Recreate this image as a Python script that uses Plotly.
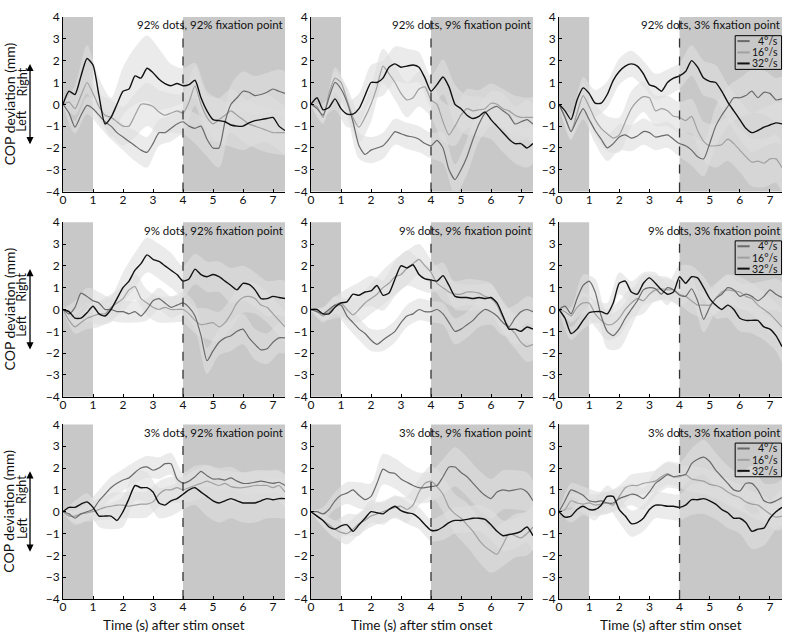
import plotly.graph_objects as go

# ---------------- data ----------------
time_s = [0.0, 0.2, 0.4, 0.6, 0.8, 1.0, 1.2, 1.4, 1.6, 1.8, 2.0, 2.2, 2.4, 2.6, 2.8,
          3.0, 3.2, 3.4, 3.6, 3.8, 4.0, 4.2, 4.4, 4.6, 4.8, 5.0, 5.2, 5.4, 5.6, 5.8,
          6.0, 6.2, 6.4, 6.6, 6.8, 7.0, 7.2, 7.4]
band_idx = [0, 2, 4, 6, 8, 10, 12, 14, 16, 18, 20, 22, 24, 26, 28, 30, 32, 34, 36, 37]

speeds = ["4°/s", "16°/s", "32°/s"]
titles = ["92% dots, 92% fixation point", "92% dots, 9% fixation point", "92% dots, 3% fixation point",
          "9% dots, 92% fixation point", "9% dots, 9% fixation point", "9% dots, 3% fixation point",
          "3% dots, 92% fixation point", "3% dots, 9% fixation point", "3% dots, 3% fixation point"]
x_ticks = [0, 1, 2, 3, 4, 5, 6, 7]
y_ticks = [-4, -3, -2, -1, 0, 1, 2, 3, 4]
stim_on = [0, 1]
post_stim = [4, 7.4]

# panel 1: 92% dots, 92% fixation
p1_4 = [0, -0.4, -1.05, -0.5, -0.05, -0.2, -0.5, -0.8, -1.0, -1.3, -1.5, -1.7, -1.9, -2.1, -2.2, -1.8, -1.3, -1.3, -1.1,
        -0.9, -0.8, -1.0, -1.1, -1.0, -1.6, -2.0, -2.0, -0.8, 0.0, 0.3, 0.6, 0.55, 0.4, 0.45, 0.55, 0.7, 0.6, 0.5]
p1_16 = [0, 0.1, -0.2, 0.4, 1.0, 0.5, -0.1, -0.5, -0.6, -0.8, -1.0, -1.0, -0.5, 0.0, 0.0, -0.1, -0.35, -0.5, -0.4,
         -0.3, -0.4, 0.1, 0.85, 0.0, -0.6, -0.9, -0.7, -0.5, -0.3, -0.5, -0.7, -0.9, -1.0, -1.1, -1.2, -1.3, -1.3, -1.3]
p1_32 = [0, 0.6, 0.45, 1.3, 2.1, 1.8, 0.4, -0.9, -0.6, 0.0, 0.6, 0.7, 1.3, 1.2, 1.65, 1.45, 1.15, 0.95, 0.85,
         0.95, 0.85, 0.9, 1.1, 0.3, -0.3, -0.7, -0.75, -0.8, -0.95, -1.0, -1.0, -0.85, -0.75, -0.7, -0.65, -0.6, -1.0, -1.2]
p1_hw4 = [0.05, 0.3, 0.4, 0.5, 0.6, 0.6, 0.7, 0.7, 0.6, 0.6, 0.6, 0.7, 0.8, 0.9, 0.9, 0.9, 0.9, 0.9, 1.0, 1.0]
p1_hw16 = [0.05, 0.3, 0.5, 0.6, 0.8, 0.9, 1.0, 1.0, 1.0, 0.9, 0.9, 0.9, 1.0, 1.0, 1.0, 1.0, 1.0, 1.0, 1.0, 1.0]
p1_hw32 = [0.05, 0.4, 0.6, 0.8, 0.9, 1.1, 1.3, 1.5, 1.4, 1.0, 0.8, 0.8, 0.9, 1.0, 1.0, 1.1, 1.1, 1.1, 1.1, 1.1]

# panel 2: 92% dots, 9% fixation
p2_4 = [0, -0.2, -0.5, 0.3, 1.0, 0.7, 0.1, -0.8, -1.9, -2.3, -2.1, -2.0, -1.9, -1.6, -1.25, -1.35, -1.45, -1.5, -1.6,
        -1.8, -1.9, -1.65, -2.0, -3.0, -3.45, -3.0, -2.4, -1.6, -0.9, -0.4, -0.2, -0.1, -0.3, -0.5, -0.9, -0.8, -0.7, -0.9]
p2_16 = [0, -0.1, -0.6, 0.5, 1.2, 1.0, 0.2, -0.6, -1.05, -0.6, 0.0, 0.8, 1.75, 1.4, 1.0, 0.5, 0.2, 0.3, 0.7,
         0.8, 0.2, 0.0, -0.8, -1.4, -1.0, -0.5, -0.2, -0.3, -0.25, -0.2, 0.05, 0.0, -0.2, -0.3, -0.5, -0.6, -0.6, -0.6]
p2_32 = [0, 0.3, -0.25, -0.15, 0.25, -0.2, -0.45, -0.45, -0.2, 0.4, 1.0, 1.0, 1.2, 1.7, 1.85, 1.7, 1.75, 1.8, 1.7,
         1.2, 0.6, 0.9, 1.25, 0.8, 0.0, -0.2, -0.5, -0.65, -0.55, -0.35, -0.7, -1.0, -1.3, -1.6, -1.8, -1.8, -2.0, -1.8]
p2_hw4 = [0.05, 0.3, 0.5, 0.6, 0.6, 0.6, 0.6, 0.6, 0.6, 0.6, 0.6, 0.7, 0.7, 0.8, 0.8, 0.8, 0.8, 0.8, 0.9, 0.9]
p2_hw16 = [0.05, 0.3, 0.5, 0.6, 0.7, 0.8, 0.8, 0.8, 0.8, 0.8, 0.8, 0.9, 0.9, 0.9, 0.9, 0.9, 0.9, 0.9, 0.9, 0.9]
p2_hw32 = [0.05, 0.3, 0.5, 0.6, 0.7, 0.8, 0.8, 0.8, 0.8, 0.7, 0.7, 0.8, 0.9, 0.9, 0.9, 0.9, 0.9, 0.9, 0.9, 0.9]

# panel 3: 92% dots, 3% fixation
p3_4 = [0, -0.6, -1.25, -0.7, -0.2, -0.7, -1.2, -1.6, -2.0, -1.8, -1.5, -1.4, -1.55, -1.45, -1.25, -1.3, -1.5, -1.45, -1.4,
        -1.6, -1.8, -1.9, -2.1, -2.4, -2.5, -1.8, -1.0, -0.5, -0.1, 0.3, 0.3, 0.4, 0.6, 0.3, 0.55, 0.5, 0.2, 0.25]
p3_16 = [0, -0.6, -1.25, -0.4, 0.4, -0.1, -0.7, -1.1, -1.35, -1.55, -1.4, -0.8, -0.2, 0.15, 0.35, 0.3, -0.3, -0.2, -0.3,
         -0.55, -0.6, -0.75, -0.55, -1.2, -1.7, -1.9, -1.9, -1.85, -1.6, -1.8, -2.1, -2.4, -2.65, -2.6, -2.7, -2.5, -2.5, -2.9]
p3_32 = [0, -0.3, -0.7, 0.2, 0.75, 0.5, 0.05, 0.05, 0.45, 1.1, 1.5, 1.75, 1.85, 1.75, 1.4, 0.9, 0.8, 0.6, 1.0,
         1.2, 1.3, 1.5, 2.0, 1.7, 1.2, 1.05, 1.0, 0.6, 0.1, -0.3, -0.7, -1.1, -1.3, -1.2, -1.05, -0.95, -0.85, -0.9]
p3_hw4 = [0.05, 0.3, 0.5, 0.6, 0.6, 0.6, 0.6, 0.6, 0.6, 0.6, 0.6, 0.7, 0.8, 0.9, 0.9, 0.9, 1.0, 1.0, 1.0, 1.0]
p3_hw16 = [0.05, 0.4, 0.6, 0.7, 0.8, 0.8, 0.8, 0.7, 0.7, 0.7, 0.7, 0.8, 0.9, 1.0, 1.0, 1.0, 1.1, 1.1, 1.1, 1.1]
p3_hw32 = [0.05, 0.3, 0.5, 0.6, 0.6, 0.6, 0.6, 0.6, 0.6, 0.6, 0.6, 0.7, 0.8, 0.8, 0.8, 0.9, 0.9, 0.9, 0.9, 0.9]

# panel 4: 9% dots, 92% fixation
p4_4 = [0, -0.2, 0.1, 0.75, 0.6, 0.4, 0.3, 0.0, 0.0, -0.1, -0.1, -0.2, -0.1, -0.3, 0.0, 0.4, 0.5, 0.3, 0.1,
        0.2, 0.3, 0.1, -0.3, -1.2, -2.35, -1.9, -1.5, -1.3, -1.2, -1.0, -0.9, -1.3, -1.6, -1.85, -1.8, -1.5, -1.3, -1.3]
p4_16 = [0, -0.5, -0.8, -0.6, -0.4, -0.3, -0.2, -0.2, 0.1, 0.3, 0.5, 0.9, 1.05, 0.5, 0.3, 0.1, 0.0, 0.1, 0.0,
         0.0, 0.0, -0.2, -0.5, -0.7, -0.65, -0.6, -0.8, -0.6, -0.2, 0.3, 0.55, 0.6, 0.5, 0.2, 0.1, -0.2, -0.5, -0.8]
p4_32 = [0, -0.1, -0.4, -0.4, -0.15, 0.15, -0.2, -0.3, 0.0, 0.5, 1.0, 1.3, 1.8, 2.1, 2.5, 2.3, 2.2, 2.0, 1.8,
         1.6, 1.3, 1.4, 1.85, 1.6, 1.5, 1.6, 1.5, 1.3, 1.1, 0.9, 1.2, 1.15, 0.9, 0.5, 0.5, 0.6, 0.55, 0.5]
p4_hw4 = [0.05, 0.3, 0.4, 0.5, 0.5, 0.5, 0.5, 0.5, 0.5, 0.5, 0.5, 0.6, 0.6, 0.6, 0.7, 0.7, 0.7, 0.7, 0.7, 0.7]
p4_hw16 = [0.05, 0.3, 0.5, 0.6, 0.6, 0.6, 0.6, 0.6, 0.6, 0.6, 0.6, 0.6, 0.7, 0.7, 0.7, 0.7, 0.7, 0.7, 0.7, 0.7]
p4_hw32 = [0.05, 0.3, 0.4, 0.5, 0.6, 0.7, 0.8, 0.8, 0.8, 0.8, 0.7, 0.7, 0.7, 0.7, 0.8, 0.8, 0.8, 0.8, 0.8, 0.8]

# panel 5: 9% dots, 9% fixation
p5_4 = [0, -0.1, -0.2, 0.0, 0.2, 0.2, -0.3, -0.6, -0.9, -1.1, -1.4, -1.6, -1.4, -1.2, -1.0, -0.6, -0.3, -0.2, 0.0,
        -0.1, -0.1, 0.0, -0.2, -0.6, -1.0, -0.9, -0.7, -0.5, -0.2, 0.0, -0.1, -0.3, -0.6, -0.8, -0.4, -0.1, 0.0, -0.1]
p5_16 = [0, -0.1, -0.3, -0.1, 0.2, 0.3, 0.0, -0.25, 0.0, 0.3, 0.5, 0.7, 1.0, 1.2, 1.5, 1.6, 1.9, 2.1, 2.3,
         2.0, 1.7, 1.2, 1.0, 0.8, 0.7, 0.7, 0.8, 0.8, 0.75, 0.6, 0.5, 0.2, -0.4, -0.8, -1.1, -1.5, -1.7, -1.6]
p5_32 = [0, 0.0, -0.2, -0.2, 0.1, 0.3, 0.35, 0.7, 0.65, 0.8, 0.85, 1.1, 0.65, 0.75, 1.4, 2.0, 1.9, 2.05, 1.6,
         1.4, 1.35, 1.3, 1.55, 1.1, 0.6, 0.55, 0.55, 0.5, 0.55, 0.5, 0.55, 0.3, -0.3, -0.9, -0.9, -1.0, -0.8, -0.9]
p5_hw4 = [0.05, 0.3, 0.4, 0.5, 0.5, 0.5, 0.5, 0.5, 0.5, 0.5, 0.5, 0.5, 0.6, 0.6, 0.6, 0.6, 0.6, 0.6, 0.6, 0.6]
p5_hw16 = [0.05, 0.3, 0.4, 0.5, 0.6, 0.7, 0.8, 0.8, 0.8, 0.7, 0.6, 0.6, 0.6, 0.6, 0.6, 0.7, 0.7, 0.7, 0.7, 0.7]
p5_hw32 = [0.05, 0.3, 0.5, 0.6, 0.6, 0.7, 0.7, 0.8, 0.8, 0.7, 0.6, 0.6, 0.6, 0.6, 0.6, 0.6, 0.7, 0.7, 0.7, 0.7]

# panel 6: 9% dots, 3% fixation
p6_4 = [0, 0.15, -0.2, 0.5, 1.1, 1.3, 0.8, -0.3, -1.0, -1.2, -0.9, -0.4, 0.0, 0.4, 0.9, 1.0, 0.95, 0.7, 1.0,
        0.9, 0.65, 0.6, 0.95, 0.4, -0.45, 0.1, 0.5, 0.7, 1.0, 0.9, 0.6, 0.7, 0.6, 0.4, 0.6, 0.9, 0.7, 0.55]
p6_16 = [0, -0.1, -0.3, 0.1, 0.3, 0.3, -0.2, -0.5, -0.7, -0.65, -0.4, 0.0, 0.3, 0.5, 0.4, 0.7, 0.9, 0.95, 0.9,
         0.9, 0.7, 0.6, 0.4, 0.2, 0.2, 0.2, 0.5, 0.8, 0.9, 0.85, 0.8, 0.6, 0.5, 0.2, 0.0, -0.2, -0.5, -0.8]
p6_32 = [0, -0.4, -1.1, -0.9, -0.5, -0.15, -0.1, -0.1, -0.2, 0.3, 1.2, 1.3, 0.8, 0.7, 1.2, 1.45, 1.2, 0.9, 0.7,
         0.8, 1.5, 1.2, 1.5, 1.45, 1.0, 0.5, 0.2, 0.0, 0.2, 0.0, -0.4, -0.5, -0.5, -0.5, -0.8, -0.9, -1.2, -1.7]
p6_hw4 = [0.05, 0.3, 0.5, 0.6, 0.8, 0.9, 0.8, 0.7, 0.6, 0.5, 0.5, 0.5, 0.6, 0.6, 0.6, 0.6, 0.6, 0.7, 0.7, 0.7]
p6_hw16 = [0.05, 0.3, 0.5, 0.6, 0.7, 0.8, 0.7, 0.6, 0.5, 0.5, 0.5, 0.6, 0.6, 0.7, 0.7, 0.7, 0.7, 0.8, 0.8, 0.8]
p6_hw32 = [0.05, 0.3, 0.4, 0.5, 0.5, 0.5, 0.5, 0.5, 0.5, 0.5, 0.5, 0.5, 0.5, 0.6, 0.6, 0.6, 0.6, 0.6, 0.7, 0.7]

# panel 7: 3% dots, 92% fixation
p7_4 = [0, -0.1, -0.3, -0.1, 0.0, 0.1, 0.5, 0.8, 1.1, 1.3, 1.45, 1.55, 1.8, 2.0, 2.05, 1.9, 2.0, 2.2, 2.2,
        1.5, 1.3, 1.4, 1.6, 1.85, 1.65, 1.5, 1.5, 1.45, 1.55, 1.4, 1.3, 1.3, 1.35, 1.4, 1.35, 1.3, 1.35, 1.2]
p7_16 = [0, -0.2, -0.2, -0.1, -0.05, 0.0, 0.1, 0.2, 0.25, 0.3, 0.3, 0.25, 0.3, 0.35, 0.35, 0.45, 0.8, 1.0, 1.0,
         1.1, 1.0, 1.1, 1.2, 1.3, 1.4, 1.3, 1.2, 1.3, 1.15, 1.1, 1.1, 1.15, 1.2, 1.2, 1.2, 1.1, 1.2, 0.9]
p7_32 = [0, 0.2, 0.2, 0.35, 0.45, 0.2, -0.2, -0.2, -0.2, -0.4, 0.0, 0.6, 1.2, 1.1, 1.1, 0.9, 0.4, 0.3, 0.5,
         0.6, 0.8, 1.0, 1.1, 0.9, 0.7, 0.5, 0.4, 0.5, 0.6, 0.5, 0.4, 0.4, 0.4, 0.5, 0.6, 0.55, 0.6, 0.6]
p7_hw4 = [0.05, 0.3, 0.4, 0.5, 0.5, 0.5, 0.5, 0.5, 0.5, 0.5, 0.5, 0.5, 0.5, 0.5, 0.5, 0.5, 0.5, 0.5, 0.5, 0.5]
p7_hw16 = [0.05, 0.3, 0.4, 0.5, 0.6, 0.6, 0.6, 0.6, 0.6, 0.6, 0.6, 0.7, 0.7, 0.7, 0.7, 0.7, 0.7, 0.7, 0.7, 0.7]
p7_hw32 = [0.05, 0.3, 0.4, 0.5, 0.6, 0.7, 0.7, 0.7, 0.7, 0.7, 0.7, 0.8, 0.9, 0.9, 0.9, 0.9, 0.9, 0.9, 0.9, 0.9]

# panel 8: 3% dots, 9% fixation
p8_4 = [0, 0.0, -0.1, 0.1, 0.5, 0.75, 0.85, 1.0, 0.75, 0.55, 0.7, 1.3, 1.95, 1.8, 1.75, 1.5, 1.35, 1.2, 1.1,
        1.1, 1.15, 1.2, 1.6, 2.05, 2.05, 1.8, 1.6, 1.3, 1.0, 0.75, 0.6, 0.9, 1.0, 0.95, 1.0, 1.05, 0.9, 0.5]
p8_16 = [0, -0.2, -0.4, -0.6, -0.8, -0.95, -1.0, -0.8, -0.55, -0.4, -0.2, -0.1, 0.0, 0.1, 0.2, 0.25, 0.1, 0.3, 0.9,
         1.3, 1.4, 1.15, 0.8, 0.2, -0.1, -0.3, -0.6, -0.9, -1.3, -1.6, -1.8, -1.95, -1.5, -1.0, -1.1, -1.2, -1.0, -0.7]
p8_32 = [0, -0.2, -0.4, -0.7, -0.8, -0.65, -0.6, -0.9, -0.6, -0.3, 0.0, -0.05, -0.1, 0.1, 0.25, 0.05, -0.05, -0.1, -0.3,
         -0.6, -0.85, -0.85, -0.7, -0.5, -0.4, -0.4, -0.35, -0.3, -0.3, -0.35, -0.6, -0.9, -1.1, -1.05, -1.0, -0.9, -0.7, -1.1]
p8_hw4 = [0.05, 0.3, 0.4, 0.5, 0.6, 0.6, 0.7, 0.7, 0.7, 0.7, 0.7, 0.8, 0.9, 0.9, 0.9, 0.9, 0.9, 0.9, 0.9, 0.9]
p8_hw16 = [0.05, 0.3, 0.4, 0.5, 0.5, 0.5, 0.5, 0.5, 0.6, 0.6, 0.7, 0.8, 0.9, 1.0, 1.0, 1.0, 1.0, 1.0, 1.0, 1.0]
p8_hw32 = [0.05, 0.3, 0.4, 0.5, 0.5, 0.5, 0.5, 0.5, 0.5, 0.5, 0.5, 0.6, 0.6, 0.6, 0.6, 0.7, 0.7, 0.7, 0.7, 0.7]

# panel 9: 3% dots, 3% fixation
p9_4 = [0, 0.5, 1.0, 0.9, 0.75, 0.5, 0.45, 0.5, 0.4, 0.4, 0.6, 0.7, 0.8, 0.75, 0.6, 0.9, 1.3, 1.5, 1.7,
        1.6, 1.65, 1.7, 2.2, 2.4, 2.5, 2.3, 1.9, 1.6, 1.3, 1.0, 0.95, 1.3, 1.3, 1.0, 0.5, 0.4, 0.5, 0.65]
p9_16 = [0, 0.1, 0.5, 0.4, 0.35, 0.4, 0.3, 0.35, 0.4, 0.3, 0.7, 1.1, 1.2, 1.2, 1.3, 1.35, 1.4, 1.6, 1.75,
         1.6, 1.6, 1.7, 1.5, 1.45, 1.4, 1.25, 1.2, 1.1, 0.9, 0.75, 0.65, 0.45, 0.35, 0.3, 0.1, -0.1, -0.25, -0.2]
p9_32 = [0, -0.25, -0.2, 0.1, 0.25, 0.1, 0.1, 0.3, 0.7, 0.7, 0.1, -0.2, -0.55, -0.5, -0.3, 0.1, 0.3, 0.3, 0.25,
         0.25, 0.2, 0.3, 0.55, 0.55, 0.6, 0.5, 0.35, 0.1, -0.05, -0.3, -0.3, -0.5, -0.9, -0.8, -0.75, -0.3, 0.0, 0.2]
p9_hw4 = [0.05, 0.3, 0.4, 0.5, 0.5, 0.5, 0.5, 0.5, 0.6, 0.6, 0.6, 0.7, 0.8, 0.8, 0.8, 0.8, 0.8, 0.8, 0.8, 0.8]
p9_hw16 = [0.05, 0.3, 0.4, 0.5, 0.5, 0.5, 0.5, 0.5, 0.5, 0.5, 0.5, 0.6, 0.6, 0.6, 0.6, 0.6, 0.6, 0.6, 0.6, 0.6]
p9_hw32 = [0.05, 0.3, 0.4, 0.5, 0.5, 0.6, 0.6, 0.6, 0.6, 0.6, 0.6, 0.7, 0.7, 0.7, 0.7, 0.7, 0.8, 0.8, 0.8, 0.8]

means = [(p1_4, p1_16, p1_32), (p2_4, p2_16, p2_32), (p3_4, p3_16, p3_32),
         (p4_4, p4_16, p4_32), (p5_4, p5_16, p5_32), (p6_4, p6_16, p6_32),
         (p7_4, p7_16, p7_32), (p8_4, p8_16, p8_32), (p9_4, p9_16, p9_32)]
halfwidths = [(p1_hw4, p1_hw16, p1_hw32), (p2_hw4, p2_hw16, p2_hw32), (p3_hw4, p3_hw16, p3_hw32),
              (p4_hw4, p4_hw16, p4_hw32), (p5_hw4, p5_hw16, p5_hw32), (p6_hw4, p6_hw16, p6_hw32),
              (p7_hw4, p7_hw16, p7_hw32), (p8_hw4, p8_hw16, p8_hw32), (p9_hw4, p9_hw16, p9_hw32)]

# ---------------- styling ----------------
FONT = "Lato, 'Open Sans', sans-serif"
line_colors = ["#6a6a6a", "#a0a0a0", "#111111"]
line_widths = [1.2, 1.2, 1.4]
band_color = "rgba(222,222,222,0.62)"
shade_color = "#c8c8c8"

W, H = 798, 639
col_px = [(63, 285), (311, 533), (559, 782)]
row_px = [(9, 186), (217, 394), (422, 599)]
ml = col_px[0][0]
mr = W - col_px[2][1]
mt = row_px[0][0]
mb = H - row_px[2][1]
pw = W - ml - mr
ph = H - mt - mb


def px_x(x):
    return (x - ml) / pw


def px_y(y):
    return 1 - (y - mt) / ph


def xdom(c):
    a, b = col_px[c]
    return [px_x(a), px_x(b)]


def ydom(r):
    a, b = row_px[r]
    return [px_y(b), px_y(a)]


fig = go.Figure()
shapes = []
annotations = []
layout_axes = {}

for k in range(9):
    r, c = divmod(k, 3)
    sfx = "" if k == 0 else str(k + 1)
    xa, ya = "x" + sfx, "y" + sfx
    bx = [time_s[i] for i in band_idx]
    # confidence bands
    for vals, hw in zip(means[k], halfwidths[k]):
        hi = [vals[i] + h for i, h in zip(band_idx, hw)]
        lo = [vals[i] - h for i, h in zip(band_idx, hw)]
        fig.add_trace(go.Scatter(x=bx + bx[::-1], y=hi + lo[::-1], fill="toself",
                                 fillcolor=band_color, line=dict(width=0, shape="spline", smoothing=0.8),
                                 mode="lines", hoverinfo="skip", showlegend=False, xaxis=xa, yaxis=ya))
    # mean lines (16 first, then 4, black on top)
    for j in [1, 0, 2]:
        fig.add_trace(go.Scatter(x=time_s, y=means[k][j], mode="lines", name=speeds[j],
                                 line=dict(color=line_colors[j], width=line_widths[j],
                                           shape="spline", smoothing=0.6),
                                 showlegend=False, xaxis=xa, yaxis=ya))

    axis_common = dict(ticks="inside", ticklen=3, tickcolor="#000", showline=True,
                       linecolor="#000", linewidth=1, showgrid=False, zeroline=False,
                       tickfont=dict(size=12, color="#111", family=FONT))
    layout_axes["xaxis" + sfx] = dict(domain=xdom(c), anchor=ya, range=[0, 7.4], tickvals=x_ticks,
                                      ticklabelstandoff=-3, **axis_common)
    layout_axes["yaxis" + sfx] = dict(domain=ydom(r), anchor=xa, range=[-4, 4], tickvals=y_ticks,
                                      **axis_common)
    # shaded periods
    for x0, x1 in (stim_on, post_stim):
        shapes.append(dict(type="rect", xref=xa, yref=ya + " domain", x0=x0, x1=x1, y0=0, y1=1,
                           fillcolor=shade_color, line=dict(width=0), layer="below"))
    shapes.append(dict(type="line", xref=xa, yref=ya + " domain", x0=post_stim[0], x1=post_stim[0],
                       y0=0, y1=1, line=dict(color="#333", width=1.3, dash="dash"), layer="above"))
    # panel title
    annotations.append(dict(text=titles[k], xref=xa + " domain", yref=ya + " domain", x=1.0, y=0.955,
                            xanchor="right", yanchor="middle", showarrow=False,
                            font=dict(size=11.5, color="#111", family=FONT)))
    # legend box for right column
    if c == 2:
        shapes.append(dict(type="rect", xref=xa + " domain", yref=ya + " domain", x0=0.79, x1=0.998,
                           y0=0.70, y1=0.893, line=dict(color="#000", width=1), fillcolor="rgba(0,0,0,0)",
                           layer="above"))
        ys = [0.862, 0.797, 0.734]
        for j in range(3):
            shapes.append(dict(type="line", xref=xa + " domain", yref=ya + " domain", x0=0.80, x1=0.855,
                               y0=ys[j], y1=ys[j], line=dict(color=line_colors[j], width=2),
                               layer="above"))
            annotations.append(dict(text=speeds[j], xref=xa + " domain", yref=ya + " domain", x=0.99,
                                    y=ys[j], xanchor="right", yanchor="middle", showarrow=False,
                                    font=dict(size=10.5, color="#111", family=FONT)))
    # y-axis labels for left column
    if c == 0:
        d = ydom(r)
        annotations.append(dict(text="COP deviation (mm)", xref="paper", yref="paper",
                                x=px_x(9), y=(d[0] + d[1]) / 2, textangle=-90,
                                xanchor="center", yanchor="middle", showarrow=False,
                                font=dict(size=14, color="#111", family=FONT)))
        annotations.append(dict(text="Right", xref="paper", yref=ya, x=px_x(22), y=1.0,
                                textangle=-90, xanchor="center", yanchor="middle", showarrow=False,
                                font=dict(size=12.5, color="#111", family=FONT)))
        annotations.append(dict(text="Left", xref="paper", yref=ya, x=px_x(22), y=-0.75,
                                textangle=-90, xanchor="center", yanchor="middle", showarrow=False,
                                font=dict(size=12.5, color="#111", family=FONT)))
        annotations.append(dict(text="", xref="paper", yref=ya, x=px_x(30), y=1.85,
                                axref="pixel", ayref=ya, ax=0, ay=-1.9, showarrow=True,
                                arrowhead=2, arrowside="end+start", arrowsize=1.1, arrowwidth=1.3,
                                arrowcolor="#000"))
    # x-axis labels for bottom row
    if r == 2:
        d = xdom(c)
        annotations.append(dict(text="Time (s) after stim onset", xref="paper", yref="paper",
                                x=(d[0] + d[1]) / 2, y=px_y(625), xanchor="center",
                                yanchor="middle", showarrow=False,
                                font=dict(size=13.5, color="#111", family=FONT)))

fig.update_layout(width=W, height=H, margin=dict(l=ml, r=mr, t=mt, b=mb),
                  paper_bgcolor="white", plot_bgcolor="white", showlegend=False,
                  shapes=shapes, annotations=annotations, font=dict(family=FONT), **layout_axes)

# remove the default page margin so the figure sits at the window's top-left corner
fig.write_html("out.html", config={"displayModeBar": False},
               post_script="document.body.style.margin='0px';")
